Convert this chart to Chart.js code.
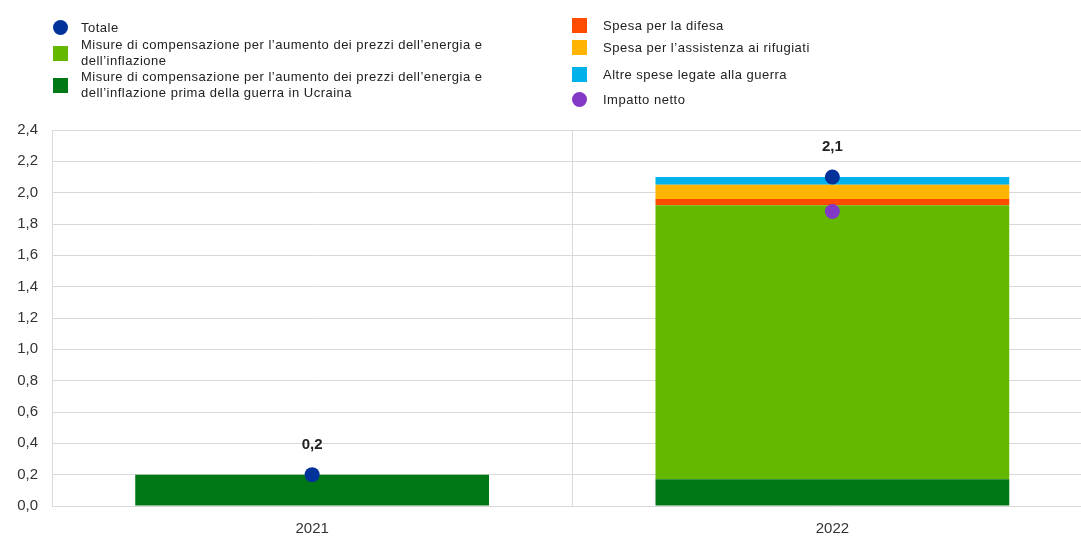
<!DOCTYPE html>
<html>
<head>
<meta charset="utf-8">
<script src="https://cdn.jsdelivr.net/npm/chart.js@4"></script>
<style>
  html, body { margin: 0; padding: 0; background: #fff; overflow: hidden; }
  #wrap { position: relative; width: 1081px; height: 536px; overflow: hidden; }
  #myChart { position: absolute; left: 0; top: 0; }
  .legend-item { position: absolute; font-family: "Liberation Sans", Arial, sans-serif; font-size: 13px; letter-spacing: 0.5px; line-height: 16.5px; color: #222; white-space: nowrap; }
  .marker { position: absolute; width: 15px; height: 15px; }
  .marker.circle { border-radius: 50%; }
</style>
</head>
<body>
<div id="wrap">
  <canvas id="myChart" width="1100" height="552"></canvas>
  <div id="legend"></div>
</div>
<script>
const years = ['2021', '2022'];

// stacked components, % of GDP
const preWarMeasures = [0.2, 0.17];
const energyMeasures = [0, 1.75];
const defence = [0, 0.04];
const refugees = [0, 0.09];
const otherWar = [0, 0.05];

// dots
const total = [0.2, 2.1];
const netImpact = [null, 1.88];

const yTicks = { min: 0, max: 2.4, step: 0.2 };

const colors = {
  darkBlue: '#003299',
  lightGreen: '#65B800',
  darkGreen: '#007816',
  red: '#FF4B00',
  yellow: '#FFB400',
  lightBlue: '#00B1EA',
  purple: '#8139C6'
};

// legend entries: [label, colour, shape, x, y of marker centre]
const legendItems = [
  ['Totale', colors.darkBlue, 'circle', 60, 27],
  ['Misure di compensazione per l’aumento dei prezzi dell’energia e<br>dell’inflazione', colors.lightGreen, 'square', 60, 53],
  ['Misure di compensazione per l’aumento dei prezzi dell’energia e<br>dell’inflazione prima della guerra in Ucraina', colors.darkGreen, 'square', 60, 85],
  ['Spesa per la difesa', colors.red, 'square', 579, 25],
  ['Spesa per l’assistenza ai rifugiati', colors.yellow, 'square', 579, 47],
  ['Altre spese legate alla guerra', colors.lightBlue, 'square', 579, 74],
  ['Impatto netto', colors.purple, 'circle', 579, 99]
];

const legendEl = document.getElementById('legend');
legendItems.forEach(([label, color, shape, x, y]) => {
  const m = document.createElement('div');
  m.className = 'marker ' + shape;
  m.style.background = color;
  m.style.left = (x - 7.5) + 'px';
  m.style.top = (y - 7.5) + 'px';
  legendEl.appendChild(m);

  const t = document.createElement('div');
  t.className = 'legend-item';
  t.innerHTML = label;
  const lines = label.split('<br>').length;
  t.style.left = (x < 300 ? 81 : 603) + 'px';
  t.style.top = (y - 8.25 * lines + (lines > 1 ? 0 : 1)) + 'px';
  legendEl.appendChild(t);
});

const fmt = v => v.toFixed(1).replace('.', ',');

// value labels above the "Totale" dots
const totalLabels = {
  id: 'totalLabels',
  afterDatasetsDraw(chart) {
    const ctx = chart.ctx;
    const meta = chart.getDatasetMeta(0);
    ctx.save();
    ctx.font = 'bold 15px "Liberation Sans", Arial, sans-serif';
    ctx.fillStyle = '#222';
    ctx.textAlign = 'center';
    ctx.textBaseline = 'middle';
    meta.data.forEach((pt, i) => {
      if (total[i] == null) return;
      ctx.fillText(fmt(total[i]), pt.x, pt.y - 30);
    });
    ctx.restore();
  }
};

const ctx = document.getElementById('myChart').getContext('2d');

const chart = new Chart(ctx, {
  data: {
    labels: years,
    datasets: [
      { type: 'line', label: 'Totale', data: total, stack: 'tot', showLine: false,
        pointRadius: 7.5, pointHoverRadius: 7.5, pointBackgroundColor: colors.darkBlue, pointBorderWidth: 0, order: 0 },
      { type: 'line', label: 'Impatto netto', data: netImpact, stack: 'net', showLine: false,
        pointRadius: 7.5, pointHoverRadius: 7.5, pointBackgroundColor: colors.purple, pointBorderWidth: 0, order: 1 },
      { type: 'bar', label: 'pre-war', data: preWarMeasures, backgroundColor: colors.darkGreen, stack: 'bars', order: 2 },
      { type: 'bar', label: 'energy', data: energyMeasures, backgroundColor: colors.lightGreen, stack: 'bars', order: 2 },
      { type: 'bar', label: 'defence', data: defence, backgroundColor: colors.red, stack: 'bars', order: 2 },
      { type: 'bar', label: 'refugees', data: refugees, backgroundColor: colors.yellow, stack: 'bars', order: 2 },
      { type: 'bar', label: 'other', data: otherWar, backgroundColor: colors.lightBlue, stack: 'bars', order: 2 }
    ]
  },
  options: {
    responsive: false,
    animation: false,
    barPercentage: 0.68,
    categoryPercentage: 1,
    layout: { padding: { top: 130, left: 0, right: 0, bottom: 0 } },
    plugins: {
      legend: { display: false },
      tooltip: { enabled: false }
    },
    scales: {
      x: {
        stacked: true,
        grid: { offset: true, color: '#d9d9d9', drawTicks: false },
        border: { color: '#d9d9d9' },
        ticks: { color: '#333', padding: 14, font: { family: '"Liberation Sans", Arial, sans-serif', size: 15 } }
      },
      y: {
        stacked: true,
        min: yTicks.min,
        max: yTicks.max,
        afterFit(scale) { scale.width = 52; },
        grid: { color: '#d9d9d9', drawTicks: false },
        border: { display: false },
        ticks: {
          stepSize: yTicks.step,
          padding: 14,
          color: '#333',
          font: { family: '"Liberation Sans", Arial, sans-serif', size: 15 },
          callback: v => fmt(v)
        }
      }
    }
  },
  plugins: [totalLabels]
});
</script>
</body>
</html>
